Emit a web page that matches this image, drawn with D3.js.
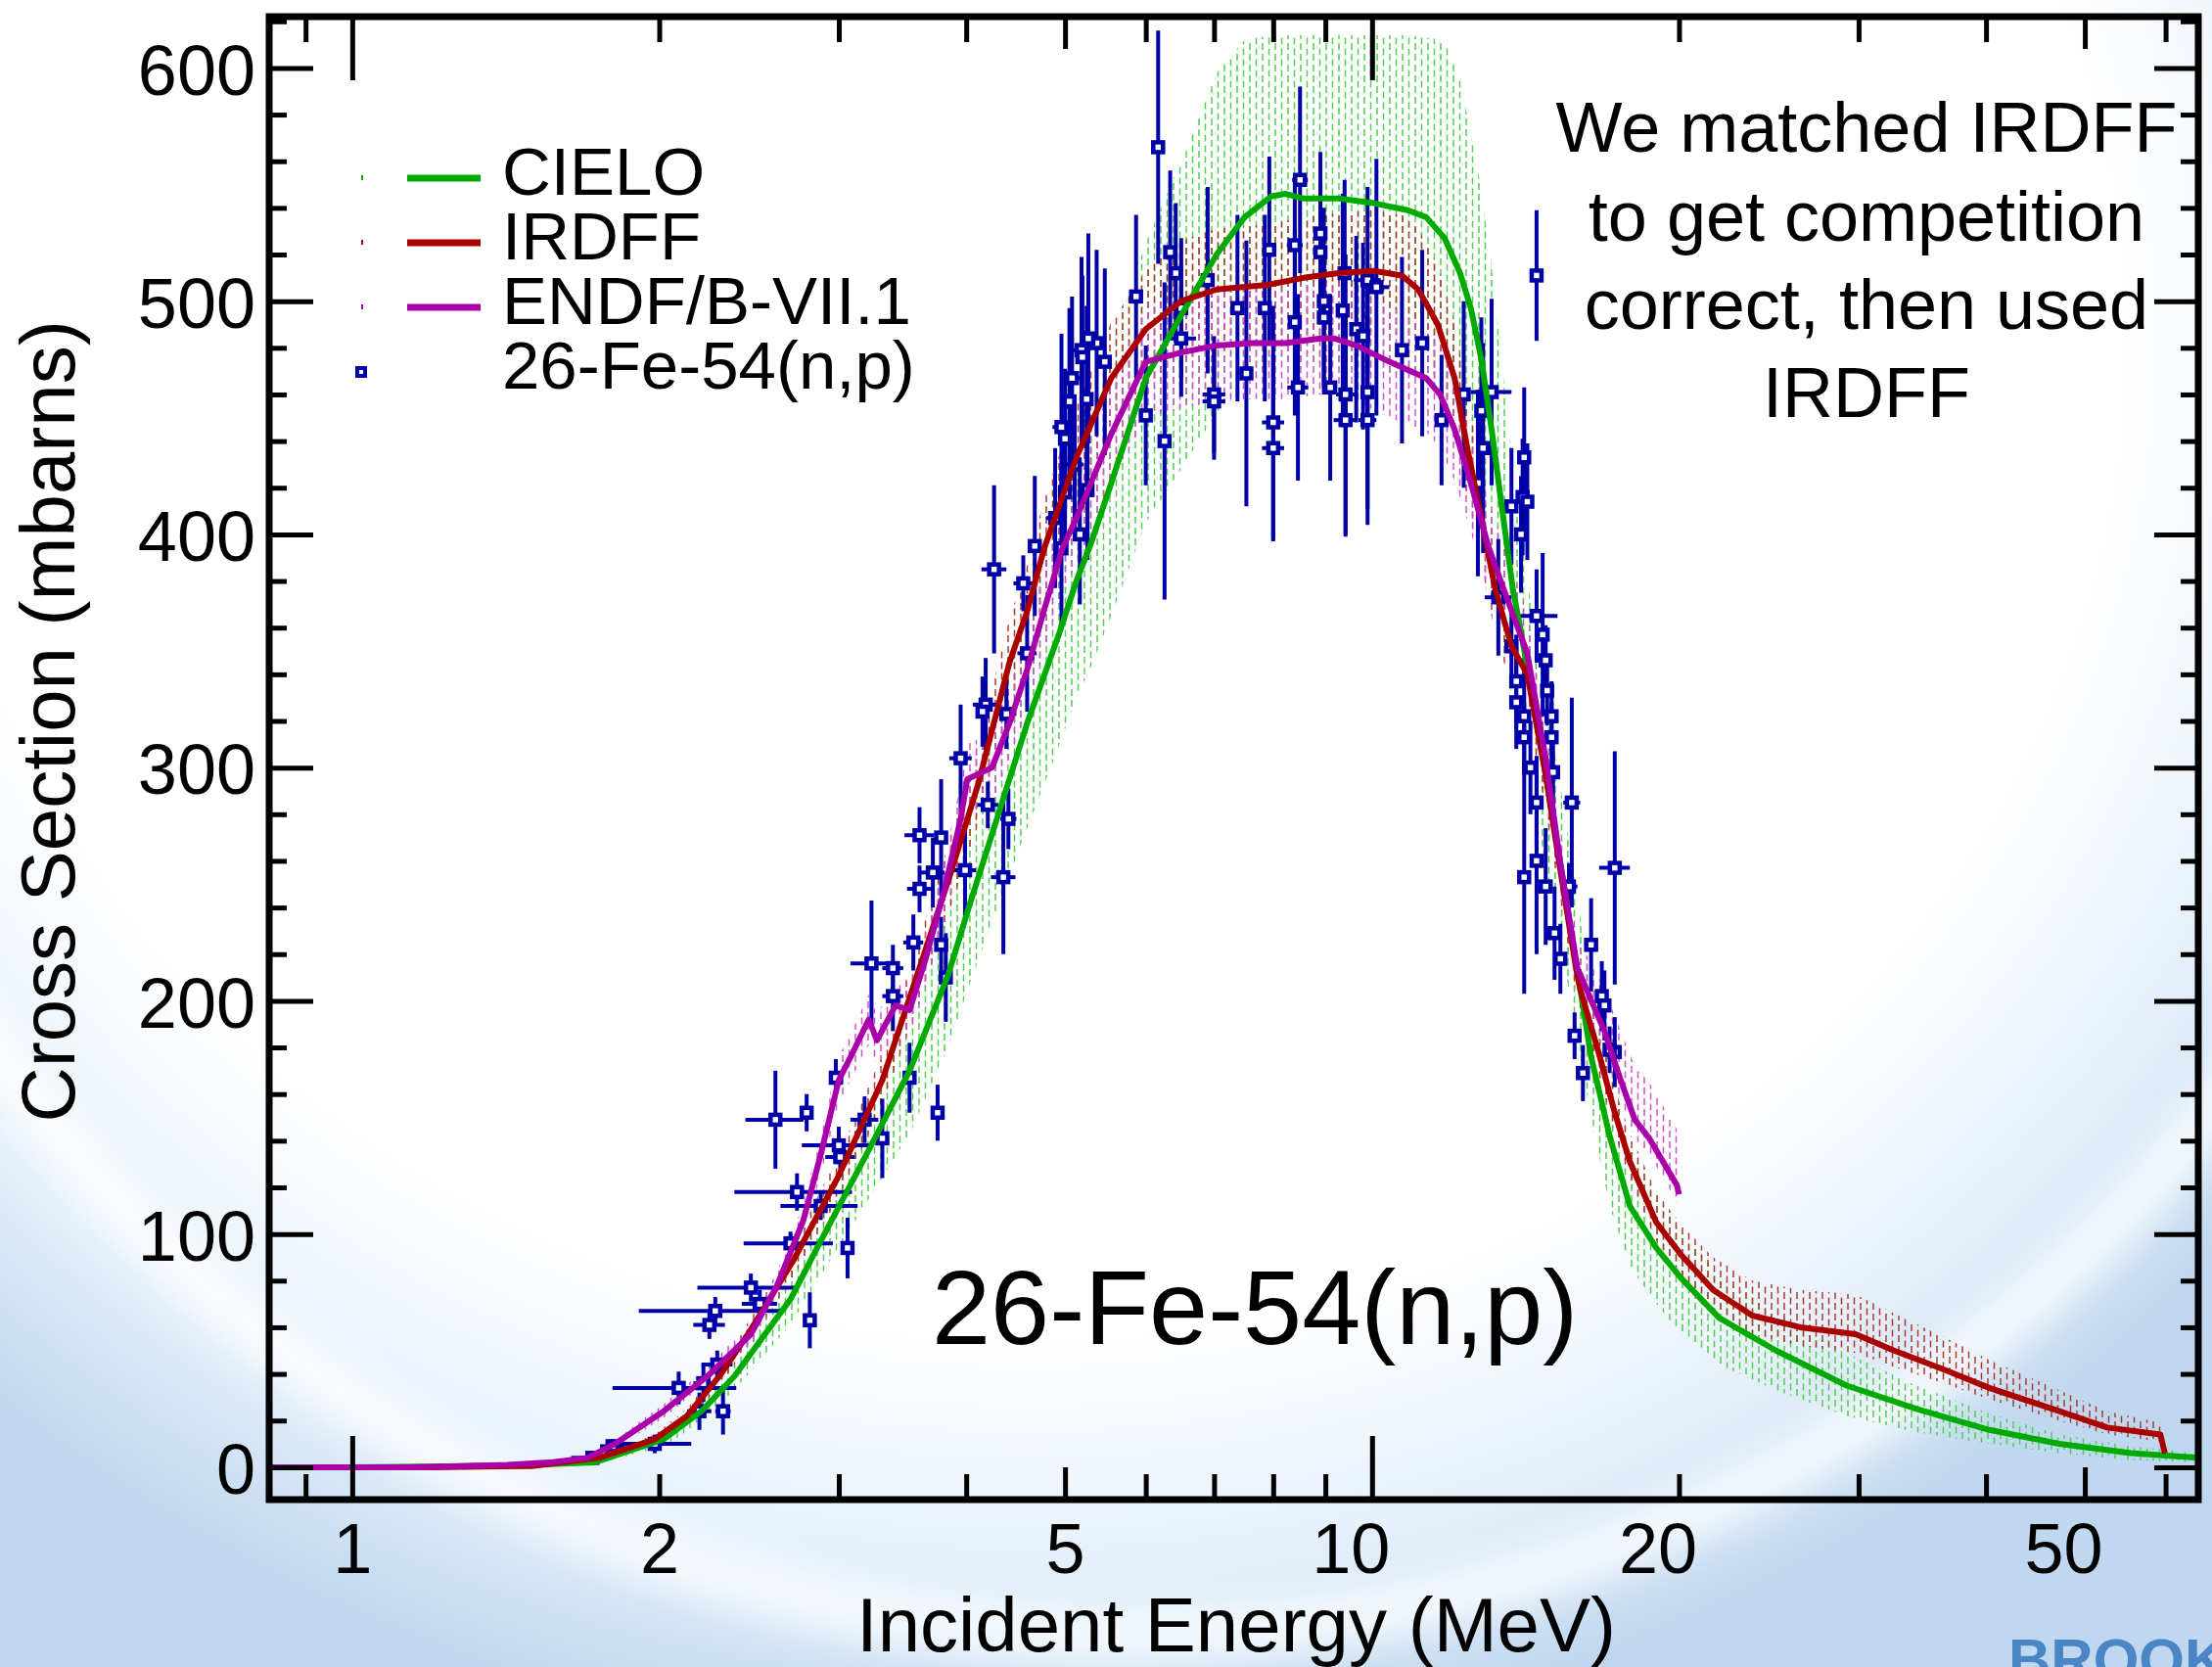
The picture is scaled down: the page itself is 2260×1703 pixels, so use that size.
<!DOCTYPE html>
<html><head><meta charset="utf-8">
<script src="https://cdn.jsdelivr.net/npm/d3@7"></script>
<style>html,body{margin:0;padding:0;background:#fff;}svg{display:block;}</style>
</head><body>
<script>
// ---------------- DATA ----------------
// CIELO evaluation (mbarns) with uncertainty band
const cieloE  = [0.83,1.0,1.3,1.5,1.726,2.02,2.2,2.37,2.69,2.88,3.21,3.52,3.84,4.03,4.41,4.59,4.93,5.13,5.3,5.55,6.0,6.5,7.04,7.5,7.97,8.23,8.57,9.27,10.04,10.84,11.3,11.78,12.2,12.5,12.8,13.1,13.45,13.74,14.0,14.24,14.8,15.3,15.8,16.4,17.1,17.9,19.0,20.1,21.9,24.9,29.2,34.2,40.3,47.2,55.5,64.6];
const cieloXS = [0,0,0.5,1,2,12,24,39,72,97,136,170,211,241,295,319,357,380,396,422,467,494,520,536,545,546,544,544,542,539,536,527,512,497,475,445,407,377,358,340,297,259,220,176,142,112,94,81,64,50,35,25,16,10,6,4];
const cieloLo = [0,0,0,0.5,1,9,19,33,61,82,115,143,180,207,254,274,309,330,343,365,405,428,452,466,474,475,473,473,471,468,466,458,445,432,413,387,354,328,311,296,258,225,190,150,112,86,70,57,44,33,22,15,10,6,3,2];
const cieloHi = [0.5,0.5,1,1.5,3,15,29,46,84,112,157,196,243,277,340,364,408,432,450,480,525,560,598,612,614,614,614,614,614,614,613,612,595,572,548,515,468,430,400,377,330,292,252,205,172,138,116,101,82,66,49,35,23,14,9,6];

// IRDFF evaluation
const irdffE  = [0.83,1.2,1.5,1.745,1.98,2.13,2.30,2.46,2.71,3.0,3.31,3.65,3.87,4.11,4.41,4.59,4.77,5.13,5.55,6.0,6.5,7.04,7.9,8.57,9.27,10.04,10.7,11.1,11.6,12.05,12.4,12.8,13.2,13.7,14.2,14.8,15.3,15.85,16.0,16.7,17.3,17.9,19.0,20.1,21.6,23.6,26.3,29.8,32.5,36.3,40.3,47.2,52.6,59.3,59.9];
const irdffXS = [0,0,0.5,4,12,22,40,59,89,125,166,222,256,293,345,367,394,433,467,488,500,505,507,510,512,513,511,505,490,467,437,407,377,352,340,297,256,214,205,177,152,131,105,91,76,65,60,57,50,42,34,24,17,14,6];
const irdffLo = [0,0,0,3,10,19,36,54,82,116,155,208,241,276,326,347,373,410,443,463,474,479,481,484,486,487,485,479,465,443,415,386,358,334,323,282,243,203,195,168,143,123,97,83,68,57,52,49,43,36,29,20,14,11,5];
const irdffHi = [0.5,0.5,1,5,14,25,44,64,96,134,177,236,271,310,364,387,415,456,491,513,526,531,533,536,538,539,537,531,515,491,459,428,396,370,357,312,269,225,216,188,163,143,118,104,90,80,76,74,66,56,46,33,24,19,8];

// ENDF/B-VII.1 evaluation
const endfE  = [0.83,1.14,1.42,1.56,1.70,1.81,2.02,2.23,2.46,2.61,2.77,2.88,3.0,3.09,3.21,3.27,3.41,3.52,3.65,3.8,3.95,4.01,4.24,4.41,4.59,4.78,4.97,5.13,5.55,6.0,6.5,7.04,7.62,8.23,8.9,9.19,9.65,10.4,11.3,11.66,12.05,12.5,13.0,13.5,14.2,14.8,15.3,15.9,16.9,17.5,18.1,18.7,19.9,20.0];
const endfXS = [0,0,1,2,4,10,24,39,57,78,106,134,166,177,192,183,198,196,218,246,278,295,300,319,342,369,394,407,443,474,478,481,482,482,484,484,481,474,467,460,445,422,395,375,349,304,259,214,187,167,149,141,121,117];
const endfLo = [0,0,0.5,1.5,3,8,21,35,52,72,99,125,156,167,181,172,187,185,206,233,263,280,285,303,325,351,375,387,421,450,454,457,458,458,460,460,457,450,444,437,423,401,375,356,332,289,246,203,178,158,141,134,114,110];
const endfHi = [0.5,0.5,1.5,2.5,5,12,27,43,62,84,113,143,176,187,203,194,209,207,230,259,293,310,315,335,359,387,413,427,465,498,502,505,506,506,508,508,505,498,490,483,467,443,415,394,366,319,272,227,205,188,172,165,145,140];

// EXFOR 26-Fe-54(n,p) experimental points: energy (MeV), cross section (mb), half-errors
const expE  = [1.72,1.80,1.98,2.09,2.21,2.19,2.31,2.28,2.27,2.24,2.46,2.51,2.81,2.69,2.73,2.88,3.06,2.60,2.79,3.00,3.01,3.31,3.18,2.98,3.23,3.39,3.39,3.52,3.75,3.55,3.60,3.60,3.78,3.82,4.35,4.40,4.20,4.26,4.55,4.59,4.18,4.15,4.38,3.95,3.78,3.71,3.99,4.67,4.96,5.00,5.08,5.19,5.11,5.26,5.00,4.89,6.17,6.34,6.42,6.90,5.87,6.50,6.50,6.26,6.00,7.00,7.00,7.53,7.38,7.93,7.85,8.40,8.50,8.40,8.00,8.00,8.46,8.90,8.90,8.97,8.97,9.10,9.42,9.42,9.90,9.90,9.36,9.65,9.40,9.90,10.1,9.80,10.7,11.2,11.7,12.3,13.1,12.8,14.1,14.05,14.2,13.7,14.0,12.7,12.85,14.5,13.3,14.5,5.37,5.20,5.47,5.25,14.7,13.7,14.8,13.85,14.85,13.85,14.1,15.0,14.1,15.0,14.3,15.05,14.5,15.7,14.1,14.5,14.8,15.6,17.3,15.1,16.4,15.3,16.8,16.9,15.8,17.3,16.1,17.1,5.05,5.17,5.27,4.96];
const expXS = [4,9,10,34,36,24,24,44,67,61,77,70,63,96,118,112,94,149,152,138,133,141,149,167,216,214,202,167,152,225,248,271,224,210,253,278,284,385,379,349,327,324,323,304,270,255,256,395,446,441,467,479,430,419,418,407,566,521,512,509,502,497,484,440,451,460,457,469,497,522,497,524,552,491,448,437,463,529,521,500,493,463,460,449,449,461,496,488,512,509,506,485,479,482,449,460,461,453,433,416,414,412,400,422,437,365,373,511,482,476,474,458,357,352,346,337,333,328,322,322,313,313,300,298,285,285,253,260,249,249,257,229,224,218,202,198,185,178,169,179,457,400,484,394];
const expDE = [.08,.05,.17,.29,.05,.06,.04,.08,.36,.08,.28,.10,.03,.27,.36,.25,.03,.17,.03,.24,.10,.05,.10,.03,.15,.08,.08,.04,.03,.08,.10,.12,.05,.04,.12,.08,.10,.12,.10,.10,.12,.05,.10,.10,.05,.10,.10,.05,.10,.05,.10,.10,.10,.05,.05,.10,.04,.05,.05,.10,.05,.10,.22,.05,.06,.18,.18,.10,.05,.10,.05,.15,.15,.10,.20,.20,.20,.05,.05,.10,.10,.10,.20,.25,.20,.10,.10,.05,.10,.30,.30,.05,.10,.10,.10,.10,.60,.10,.10,.10,.05,.10,.10,.10,.10,.70,.40,.05,.05,.05,.05,.05,.10,.10,.10,.10,.10,.10,.10,.10,.10,.10,.10,.10,.10,.30,.10,.15,.10,.30,.60,.10,.10,.10,.10,.15,.20,.10,.15,.10,.08,.06,.05,.05];
const expDXS = [3,3,4,7,8,8,10,6,6,6,6,6,12,5,8,6,13,21,8,8,8,17,10,8,27,10,15,15,12,12,10,12,12,19,33,13,10,36,12,25,20,15,15,23,25,15,20,30,40,30,35,40,30,30,25,30,50,35,30,40,35,30,25,68,30,25,25,57,40,40,40,30,40,40,50,40,40,35,30,40,30,40,60,50,45,50,50,40,40,40,55,40,40,40,28,40,40,40,30,25,25,25,25,40,45,20,25,28,40,35,40,40,35,15,15,20,15,20,25,15,15,15,20,15,20,45,50,40,25,10,50,20,20,15,15,15,10,15,12,10,40,30,45,35];

// Axis tick values and labels
const xLongTicks  = [1,10];
const xMedTicks   = [5,50];
const xShortTicks = [0.9,2,3,4,6,7,8,9,20,30,40,60];
const xLabelTicks = [1,2,5,10,20,50];
const yMajorTicks = [0,100,200,300,400,500,600];
const yMinorTicks = [20,40,60,80,120,140,160,180,220,240,260,280,320,340,360,380,420,440,460,480,520,540,560,580,620];

const legendNames = ["CIELO","IRDFF","ENDF/B-VII.1","26-Fe-54(n,p)"];
const noteLines = ["We matched IRDFF","to get competition","correct, then used","IRDFF"];

// ---------------- DRAW ----------------
const W = 2260, H = 1703;
const FONT = "'Liberation Sans', Arial, Helvetica, sans-serif";
const svg = d3.select("body").append("svg").attr("width", W).attr("height", H)
  .style("font-family", FONT);
const defs = svg.append("defs");

// background (slide gradient with soft white arc)
const rg = defs.append("radialGradient").attr("id","bg").attr("gradientUnits","userSpaceOnUse")
  .attr("cx",1050).attr("cy",350).attr("r",1450)
  .attr("gradientTransform","translate(1050,350) scale(1.1,1) translate(-1050,-350)");
[[0,"#ffffff"],[0.7,"#ffffff"],[0.86,"#e6f0fa"],[1,"#bfd7ef"]].forEach(s=>
  rg.append("stop").attr("offset",s[0]).attr("stop-color",s[1]));
svg.append("rect").attr("width",W).attr("height",H).attr("fill","url(#bg)");
defs.append("filter").attr("id","blur").append("feGaussianBlur").attr("stdDeviation",18);
svg.append("ellipse").attr("cx",1150).attr("cy",250).attr("rx",1420).attr("ry",1420)
  .attr("fill","none").attr("stroke","#ffffff").attr("stroke-width",55).attr("opacity",0.75)
  .attr("filter","url(#blur)");

// hatch patterns
function hatch(id, color){
  const p = defs.append("pattern").attr("id",id).attr("patternUnits","userSpaceOnUse")
    .attr("width",13).attr("height",11);
  p.append("line").attr("x1",3).attr("x2",3).attr("y1",0).attr("y2",7).attr("stroke",color).attr("stroke-width",1.5);
  p.append("line").attr("x1",9.5).attr("x2",9.5).attr("y1",5.5).attr("y2",11).attr("stroke",color).attr("stroke-width",1.5);
  p.append("line").attr("x1",9.5).attr("x2",9.5).attr("y1",0).attr("y2",1.5).attr("stroke",color).attr("stroke-width",1.5);
}
hatch("hG","#4fcf4f"); hatch("hR","#b0382a"); hatch("hM","#d050d0");

const L = 275, R = 2246, T = 17, B = 1532;
const x = d3.scaleLog().domain([0.829, 64.6]).range([L, R]);
const y = d3.scaleLinear().domain([-13.9, 622]).range([B, T]);

defs.append("clipPath").attr("id","plotclip").append("rect")
  .attr("x",L).attr("y",T).attr("width",R-L).attr("height",B-T);
const plot = svg.append("g").attr("clip-path","url(#plotclip)");

function rows(E, v, lo, hi){ return E.map((e,i)=>({E:e, v:v[i], lo:lo[i], hi:hi[i]})); }
const models = [
  {rows: rows(cieloE,cieloXS,cieloLo,cieloHi), color:"#00aa00", hatch:"hG"},
  {rows: rows(irdffE,irdffXS,irdffLo,irdffHi), color:"#aa0000", hatch:"hR"},
  {rows: rows(endfE,endfXS,endfLo,endfHi), color:"#aa00aa", hatch:"hM"}
];
const area = d3.area().x(d=>x(d.E)).y0(d=>y(d.lo)).y1(d=>y(d.hi));
const line = d3.line().x(d=>x(d.E)).y(d=>y(d.v));

models.forEach(m=> plot.append("path").attr("d", area(m.rows)).attr("fill","url(#"+m.hatch+")"));

// experimental points
const pts = expE.map((e,i)=>({E:e, v:expXS[i], dE:expDE[i], dv:expDXS[i]}));
const BLUE = "#0000a8";
const pg = plot.append("g");
pts.forEach(p=>{
  pg.append("line").attr("x1",x(p.E)).attr("x2",x(p.E)).attr("y1",y(p.v-p.dv)).attr("y2",y(p.v+p.dv))
    .attr("stroke",BLUE).attr("stroke-width",4);
  pg.append("line").attr("x1",x(p.E-p.dE)).attr("x2",x(p.E+p.dE)).attr("y1",y(p.v)).attr("y2",y(p.v))
    .attr("stroke",BLUE).attr("stroke-width",4);
});
pg.selectAll("rect").data(pts).join("rect")
  .attr("x",d=>x(d.E)-5).attr("y",d=>y(d.v)-5).attr("width",10).attr("height",10)
  .attr("fill","#fff").attr("stroke",BLUE).attr("stroke-width",4.5);

models.forEach(m=> plot.append("path").attr("d", line(m.rows)).attr("fill","none")
  .attr("stroke", m.color).attr("stroke-width",6).attr("stroke-linejoin","round"));

// axes ticks
function tickAxis(axis, tr, vals, len){
  const g = svg.append("g").attr("transform",tr)
    .call(axis.tickValues(vals).tickSize(len).tickFormat(""));
  g.select(".domain").remove();
  g.selectAll("line").attr("stroke","#000").attr("stroke-width",5);
}
[[xLongTicks,65],[xMedTicks,33],[xShortTicks,26]].forEach(([v,l])=>{
  tickAxis(d3.axisTop(x), `translate(0,${B})`, v, l);
  tickAxis(d3.axisBottom(x), `translate(0,${T})`, v, l);
});
[[yMajorTicks,45],[yMinorTicks,18]].forEach(([v,l])=>{
  tickAxis(d3.axisRight(y), `translate(${L},0)`, v, l);
  tickAxis(d3.axisLeft(y), `translate(${R},0)`, v, l);
});

// tick labels
const xl = svg.append("g").attr("transform",`translate(0,${B})`)
  .call(d3.axisBottom(x).tickValues(xLabelTicks).tickSize(0).tickPadding(24).tickFormat(d3.format("d")));
xl.select(".domain").remove();
xl.selectAll("text").attr("font-size",72).attr("font-family",FONT).attr("fill","#000")
  .attr("dx", d => d >= 10 ? -22 : 0);
const yl = svg.append("g").attr("transform",`translate(${L},0)`)
  .call(d3.axisLeft(y).tickValues(yMajorTicks).tickSize(0).tickPadding(14).tickFormat(d3.format("d")));
yl.select(".domain").remove();
yl.selectAll("text").attr("font-size",72).attr("font-family",FONT).attr("fill","#000").attr("dy","0.37em");

// frame
svg.append("rect").attr("x",L).attr("y",T).attr("width",R-L).attr("height",B-T)
  .attr("fill","none").attr("stroke","#000").attr("stroke-width",7);

// axis titles
svg.append("text").attr("x",1263).attr("y",1687).attr("text-anchor","middle")
  .attr("font-size",78).text("Incident Energy (MeV)");
svg.append("text").attr("transform","translate(76,737) rotate(-90)").attr("text-anchor","middle")
  .attr("font-size",78).text("Cross Section (mbarns)");

// legend
const legY = [199,265,331,397];
const legColors = ["#00aa00","#aa0000","#aa00aa"];
legColors.forEach((c,i)=>{
  svg.append("rect").attr("x",369).attr("y",legY[i]-20).attr("width",2).attr("height",5).attr("fill",c);
  svg.append("line").attr("x1",416).attr("x2",491).attr("y1",legY[i]-17).attr("y2",legY[i]-17)
    .attr("stroke",c).attr("stroke-width",7);
});
svg.append("rect").attr("x",365).attr("y",legY[3]-21).attr("width",8).attr("height",8)
  .attr("fill","#fff").attr("stroke",BLUE).attr("stroke-width",4);
legendNames.forEach((n,i)=> svg.append("text").attr("x",513).attr("y",legY[i])
  .attr("font-size",69).text(n));

// annotation
const noteY = [155,246,336,426];
noteLines.forEach((t,i)=> svg.append("text").attr("x",1907).attr("y",noteY[i])
  .attr("text-anchor","middle").attr("font-size",72).text(t));

// reaction label
svg.append("text").attr("x",952).attr("y",1373).attr("font-size",108).text("26-Fe-54(n,p)");

// logo fragment (partly outside the slide, as in the original)
svg.append("text").attr("x",2052).attr("y",1716).attr("font-size",60).attr("font-weight","bold")
  .attr("fill","#4a86c6").text("BROOK");
</script>
</body></html>
